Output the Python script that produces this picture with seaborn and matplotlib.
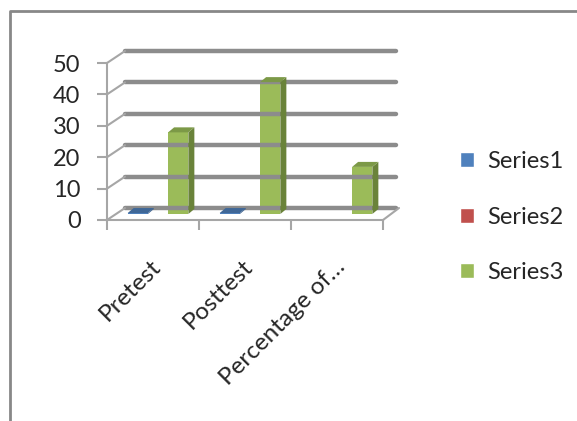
import pandas as pd
import seaborn as sns
import matplotlib.pyplot as plt
import matplotlib.transforms as mtransforms
from matplotlib.colors import to_rgb
from matplotlib.patches import Polygon, Patch
from matplotlib.lines import Line2D

sns.set_style("white")
plt.rcParams['font.family'] = ['Lato', 'DejaVu Sans']

# data
categories = ["Pretest", "Posttest", "Percentage of\u2026"]
series_names = ["Series1", "Series2", "Series3"]
series1 = [0.3, 0.3, 0]
series2 = [0, 0, 0]
series3 = [26, 42, 15]
yticks = [0, 10, 20, 30, 40, 50]

colors = {"Series1": "#4F81BD", "Series2": "#C0504D", "Series3": "#9BBB59"}
side_colors = {"Series1": "#385D8A", "Series2": "#8C3836", "Series3": "#6A833A"}
top_colors = {"Series1": "#3F6797", "Series2": "#9B3D3B", "Series3": "#7C9947"}

df = pd.DataFrame({
    "cat": categories * 3,
    "series": [s for s in series_names for _ in categories],
    "value": series1 + series2 + series3,
})

fig = plt.figure(figsize=(5.77, 4.21), dpi=100)
W, H = 577, 421
ax = fig.add_axes([107 / W, 1 - 220 / H, 276 / W, (220 - 63) / H])

sns.barplot(data=df, x="cat", y="value", hue="series", hue_order=series_names,
            palette=colors, width=0.66, saturation=1, ax=ax, legend=False,
            linewidth=0, zorder=5)
ax.set_xlim(-0.5, 2.5)
ax.set_ylim(0, 50)

for sp in ["top", "right"]:
    ax.spines[sp].set_visible(False)
for sp in ["left", "bottom"]:
    ax.spines[sp].set_color("#a6a6a6")
    ax.spines[sp].set_linewidth(1.5)

ax.set_yticks(yticks)
ax.set_yticklabels([str(v) for v in yticks], fontsize=17)
ax.set_xticks([-0.5, 0.5, 1.5, 2.5])
ax.set_xticklabels([])
ax.tick_params(axis="y", length=7, width=1.5, color="#a6a6a6", pad=12, left=True)
ax.tick_params(axis="x", length=7, width=1.5, color="#a6a6a6", bottom=True)
ax.set_xlabel("")
ax.set_ylabel("")

# category labels, rotated
for i, c in enumerate(categories):
    ax.text(i - 0.03, -11.5, c, rotation=45, ha="right", va="top",
            rotation_mode="anchor", fontsize=17.5, transform=ax.transData)

# back wall (3D look)
dx, dy = 18, 12
to_disp = ax.transData.transform
ident = mtransforms.IdentityTransform()
for v in yticks:
    (x0, y0), (x1, y1) = to_disp([(-0.5, v), (2.45, v)])
    fig.add_artist(Line2D([x0 + dx, x1 + dx], [y0 + dy, y1 + dy], transform=ident,
                          color="#8c8c8c", lw=3.2, solid_capstyle="round", zorder=1))
    fig.add_artist(Line2D([x0, x0 + dx], [y0, y0 + dy], transform=ident,
                          color="#a6a6a6", lw=1.5, zorder=1))
(xr, yr) = to_disp((2.5, 0))
fig.add_artist(Line2D([xr, xr + dx - 2], [yr, yr + dy], transform=ident,
                      color="#a6a6a6", lw=1.5, zorder=1))

# bars sit at mid depth: shift them a bit back, then add side and top faces
shift = mtransforms.ScaledTranslation(0.05, 0.06, fig.dpi_scale_trans)
bdx, bdy = 6, 5
for p in ax.patches:
    h = p.get_height()
    if not h > 0:
        continue
    p.set_transform(ax.transData + shift)
    rgb = tuple(round(t, 3) for t in p.get_facecolor()[:3])
    name = [k for k, c in colors.items() if tuple(round(t, 3) for t in to_rgb(c)) == rgb][0]
    (bx0, by0), (bx1, by1) = (ax.transData + shift).transform(
        [(p.get_x(), 0), (p.get_x() + p.get_width(), h)])
    side = Polygon([(bx1, by0), (bx1 + bdx, by0 + bdy), (bx1 + bdx, by1 + bdy), (bx1, by1)],
                   closed=True, transform=ident, facecolor=side_colors[name], lw=0, zorder=6)
    top = Polygon([(bx0, by1), (bx1, by1), (bx1 + bdx, by1 + bdy), (bx0 + bdx, by1 + bdy)],
                  closed=True, transform=ident, facecolor=top_colors[name], lw=0, zorder=6)
    fig.add_artist(side)
    fig.add_artist(top)

# legend
handles = [Patch(facecolor=colors[s], label=s) for s in series_names]
fig.legend(handles=handles, loc="center left", bbox_to_anchor=(460 / W, 1 - 217 / H),
           frameon=False, fontsize=17, handlelength=0.6, handleheight=0.6,
           handletextpad=0.55, labelspacing=1.45, borderpad=0, borderaxespad=0)

# chart frame
fig.add_artist(Line2D([10 / W, 10 / W, 1.0], [0, 1 - 11 / H, 1 - 11 / H],
                      transform=fig.transFigure, color="#888888", lw=2))

fig.savefig("out.png", dpi=100)
